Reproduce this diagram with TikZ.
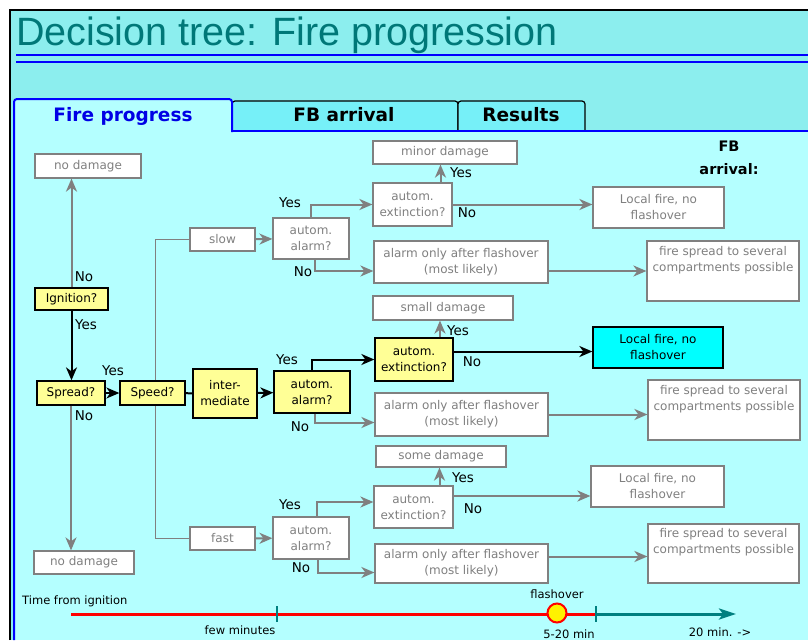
\documentclass[tikz,border=0pt]{standalone}
\usepackage{fontspec}
\setmainfont{DejaVu Sans}
\newfontfamily\titlefont{Liberation Sans}
\usetikzlibrary{arrows.meta,positioning}
\definecolor{bgcyan}{RGB}{140,238,238}
\definecolor{panelcyan}{RGB}{180,255,255}
\definecolor{tabcyan}{RGB}{118,240,248}
\definecolor{titleteal}{RGB}{0,120,120}
\definecolor{boxgray}{RGB}{128,128,128}
\definecolor{askyellow}{RGB}{255,255,150}
\definecolor{hitcyan}{RGB}{0,255,255}
\definecolor{tealline}{RGB}{0,128,128}
\begin{document}
\begin{tikzpicture}[x=1pt, y=-1pt,
    boxtxt/.style={font=\fontsize{12}{16}\selectfont, align=center, inner sep=0pt},
    outbox/.style={boxtxt, draw=boxgray, fill=white, text=boxgray, line width=1.2pt},
    askbox/.style={boxtxt, draw=black, fill=askyellow, line width=1.3pt},
    hitbox/.style={boxtxt, draw=black, fill=hitcyan, line width=1.3pt},
    sz/.style 2 args={minimum width=#1, minimum height=#2},
    yn/.style={font=\fontsize{13.5}{15}\selectfont, inner sep=0pt},
    tl/.style={font=\fontsize{11.5}{13}\selectfont, inner sep=0pt},
    gline/.style={draw=boxgray, line width=2pt},
    garr/.style={gline, -{Stealth[length=13pt,width=11pt,inset=4pt]}},
    bline/.style={draw=black, line width=2pt},
    barr/.style={bline, -{Stealth[length=13pt,width=11pt,inset=4pt]}}]
    \useasboundingbox (0,0) rectangle (808,640);

    % ===== window and tabs =====
    \fill[white] (0,0) rectangle (808,640);
    \fill[bgcyan] (10,10) rectangle (808,640);
    \draw[black, line width=2pt] (10,640) -- (10,10) -- (808,10);
    \node[anchor=base west, inner sep=0pt, text=titleteal,
          font=\titlefont\fontsize{39.5}{44}\selectfont] (title) at (16,45) {Decision tree: Fire progression};
    \draw[blue, line width=1.8pt] (16,55) -- (808,55);
    \draw[blue, line width=1.8pt] (16,62) -- (808,62);

    \fill[panelcyan] (13,131) rectangle (808,640);
    \filldraw[fill=tabcyan, draw=black, line width=1.2pt, rounded corners=3pt]
        (232,131) -- (232,101) -- (458,101) -- (458,131);
    \filldraw[fill=tabcyan, draw=black, line width=1.2pt, rounded corners=3pt]
        (458,131) -- (458,101) -- (585,101) -- (585,131);
    \draw[blue, line width=2pt] (232,131) -- (808,131);
    \filldraw[fill=panelcyan, draw=blue, line width=2pt, rounded corners=3pt]
        (14,640) -- (14,99) -- (232,99) -- (232,132);
    \node[anchor=base, text=blue!90!black, font=\bfseries\fontsize{18.5}{20}\selectfont] (tabFire) at (123,121.5) {Fire progress};
    \node[anchor=base, font=\bfseries\fontsize{18.5}{20}\selectfont] (tabFB) at (344,121.5) {FB arrival};
    \node[anchor=base, font=\bfseries\fontsize{18.5}{20}\selectfont] (tabRes) at (521,121.5) {Results};

    \node[align=center, inner sep=0pt, font=\bfseries\fontsize{14.5}{23}\selectfont] (fbHead) at (729,158) {FB\\arrival:};

    % ===== ignition, spread, speed =====
    \node[outbox, sz={106}{24}] (dmgUp) at (88,166) {no damage};
    \node[outbox, sz={100}{23}] (dmgDn) at (84,562.5) {no damage};
    \node[outbox, sz={65}{23}] (slow) at (222.5,239.5) {slow};
    \node[outbox, sz={65}{23}] (fast) at (222.5,538.5) {fast};
    \draw[gline, line width=1.3pt] (slow.west) -- ++(-34,0) |- (fast.west);

    \node[askbox, sz={73}{22}] (ign) at (71.5,299) {Ignition?};
    \node[askbox, sz={68}{24}] (spr) at (71,393) {Spread?};
    \node[askbox, sz={65}{24}] (spd) at (152.5,393) {Speed?};
    \node[askbox, sz={64}{49}] (mid) at (225,393.5) {inter-\\mediate};

    \draw[garr] (ign.north) -- (ign.north |- dmgUp.south);
    \draw[barr] (ign.south) -- (ign.south |- spr.north);
    \draw[barr] (spr) -- (spd);
    \draw[garr] (spr.south) -- (spr.south |- dmgDn.north);
    \draw[bline] (spd) -- (mid);

    \node[yn] (noIgn) at (84,277) {No};
    \node[yn] (yesIgn) at (86,325) {Yes};
    \node[yn] (yesSpr) at (113,371) {Yes};
    \node[yn] (noSpr) at (84,416) {No};

    % ===== slow =====
    \node[outbox, sz={76}{41}] (alA) at (311,238.5) {autom.\\alarm?};
    \node[outbox, sz={79}{43}] (exA) at (412.5,204.5) {autom.\\extinction?};
    \node[outbox, sz={144}{23}] (dmgA) at (445,152.5) {minor damage};
    \node[outbox, sz={131}{41}] (locA) at (658.5,207.5) {Local fire, no\\flashover};
    \node[outbox, sz={174}{42}] (onlyA) at (461,262) {alarm only after flashover\\(most likely)};
    \node[outbox, sz={152}{60}] (sprA) at (723,271) {fire spread to several\\compartments possible\\[9pt]\mbox{}};

    \draw[garr] (slow) -- (alA);
    \draw[garr] (alA.north) |- (exA.west);
    \draw[garr] ([xshift=4pt]alA.south) |- ([yshift=-9pt]onlyA.west);
    \draw[garr] ([xshift=28pt]exA.north) -- ([xshift=28pt]exA.north |- dmgA.south);
    \draw[garr] (exA.east) -- (exA.east -| locA.west);
    \draw[garr] ([yshift=-9pt]onlyA.east) -- ([yshift=-9pt]onlyA.east -| sprA.west);

    \node[yn] (yesA1) at (290,203) {Yes};
    \node[yn] (noA1) at (303,272) {No};
    \node[yn] (yesA2) at (461,173) {Yes};
    \node[yn] (noA2) at (467,213) {No};

    % ===== intermediate =====
    \node[askbox, sz={76}{42}] (alB) at (312,392) {autom.\\alarm?};
    \node[askbox, sz={78}{43}] (exB) at (414,359.5) {autom.\\extinction?};
    \node[outbox, sz={140}{24}] (dmgB) at (443,308) {small damage};
    \node[hitbox, sz={130}{41}] (locB) at (658,347.5) {Local fire, no\\flashover};
    \node[outbox, sz={173}{43}] (onlyB) at (461.5,414.5) {alarm only after flashover\\(most likely)};
    \node[outbox, sz={152}{60}] (sprB) at (724,410) {fire spread to several\\compartments possible\\[9pt]\mbox{}};

    \draw[barr] (mid) -- (alB);
    \draw[barr] (alB.north) |- (exB.west);
    \draw[garr] ([xshift=3pt]alB.south) |- ([yshift=-8pt]onlyB.west);
    \draw[garr] ([xshift=26pt]exB.north) -- ([xshift=26pt]exB.north |- dmgB.south);
    \draw[barr] ([yshift=8pt]exB.east) -- ([yshift=8pt]exB.east -| locB.west);
    \draw[garr] (onlyB.east) -- (onlyB.east -| sprB.west);

    \node[yn] (yesB1) at (287,360) {Yes};
    \node[yn] (noB1) at (300,427) {No};
    \node[yn] (yesB2) at (458,331) {Yes};
    \node[yn] (noB2) at (472,362) {No};

    % ===== fast =====
    \node[outbox, sz={76}{42}] (alC) at (311,538) {autom.\\alarm?};
    \node[outbox, sz={79}{42}] (exC) at (413.5,507) {autom.\\extinction?};
    \node[outbox, sz={130}{21}] (dmgC) at (441,456.5) {some damage};
    \node[outbox, sz={133}{41}] (locC) at (657.5,486.5) {Local fire, no\\flashover};
    \node[outbox, sz={173}{39}] (onlyC) at (461.5,563.5) {alarm only after flashover\\(most likely)};
    \node[outbox, sz={151}{59}] (sprC) at (723.5,553.5) {fire spread to several\\compartments possible\\[9pt]\mbox{}};

    \draw[garr] (fast) -- (alC);
    \draw[garr] ([xshift=6pt]alC.north) |- ([yshift=5pt]exC.west);
    \draw[garr] ([xshift=7pt]alC.south) |- ([yshift=-9pt]onlyC.west);
    \draw[garr] ([xshift=26pt]exC.north) -- ([xshift=26pt]exC.north |- dmgC.south);
    \draw[garr] ([yshift=11pt]exC.east) -- ([yshift=11pt]exC.east -| locC.west);
    \draw[garr] ([yshift=7pt]onlyC.east) -- ([yshift=7pt]onlyC.east -| sprC.west);

    \node[yn] (yesC1) at (290,505) {Yes};
    \node[yn] (noC1) at (301,568) {No};
    \node[yn] (yesC2) at (463,478) {Yes};
    \node[yn] (noC2) at (473,509) {No};

    % ===== time line =====
    \coordinate (tStart) at (71,614);
    \coordinate (tFew) at (277,614);
    \coordinate (tFlash) at (596,614);
    \coordinate (tEnd) at (736,614);
    \draw[red, line width=3pt] (tStart) -- (tFlash);
    \draw[tealline, line width=3pt, -{Stealth[length=17pt,width=11pt,inset=4pt]}] (tFlash) -- (tEnd);
    \draw[tealline, line width=2pt] ([yshift=8pt]tFew) -- ([yshift=-8pt]tFew);
    \draw[tealline, line width=2pt] ([yshift=8pt]tFlash) -- ([yshift=-8pt]tFlash);
    \node[circle, draw=red, fill=yellow, line width=2pt, minimum size=19pt, inner sep=0pt] (foDot) at (557,613) {};

    \node[tl, anchor=west] (timeLbl) at (22,601) {Time from ignition};
    \node[tl] (fewLbl) at (240,630) {few minutes};
    \node[tl] (foLbl) at (557,594) {flashover};
    \node[tl] (minLbl) at (569,634) {5-20 min};
    \node[tl] (endLbl) at (720,632) {20 min. ->};
\end{tikzpicture}
\end{document}
